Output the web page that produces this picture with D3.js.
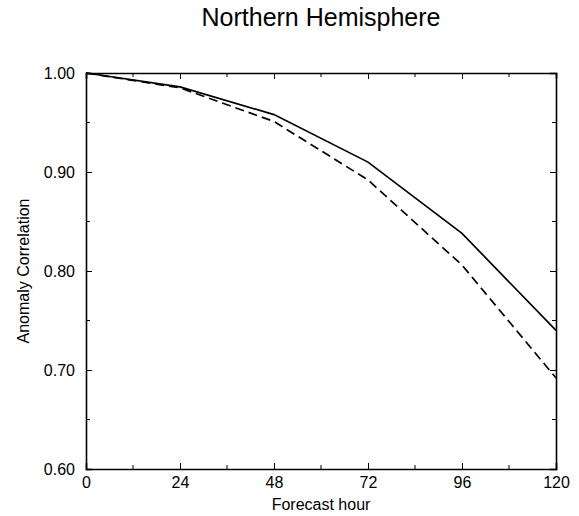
<!DOCTYPE html>
<html>
<head>
<meta charset="utf-8">
<script src="https://cdn.jsdelivr.net/npm/d3@7"></script>
<style>
  html, body { margin: 0; padding: 0; background: #fff; }
  svg { display: block; font-family: "Liberation Sans", Arial, sans-serif; }
</style>
</head>
<body>
<svg id="chart" width="579" height="516"></svg>
<script>
// Forecast hours and anomaly correlation for two forecast systems
const hours = [0, 24, 48, 72, 96, 120];
const solidSeries = [1.000, 0.986, 0.958, 0.910, 0.838, 0.740];
const dashedSeries = [1.000, 0.985, 0.951, 0.892, 0.806, 0.692];
const xTicks = [0, 24, 48, 72, 96, 120];
const yTicks = [0.60, 0.70, 0.80, 0.90, 1.00];
const titleText = "Northern Hemisphere";
const xLabel = "Forecast hour";
const yLabel = "Anomaly Correlation";

const svg = d3.select("#chart");
const L = 86, R = 556, T = 73, B = 469;

const x = d3.scaleLinear().domain([0, 120]).range([L, R]);
const y = d3.scaleLinear().domain([0.6, 1.0]).range([B, T]);

const xMinor = d3.range(12, 120, 24);
const yMinor = [0.65, 0.75, 0.85, 0.95];

// Axes (bottom/left labelled, top/right mirrored), ticks pointing inward
const axisB = d3.axisBottom(x).tickValues(xTicks).tickSize(-6).tickPadding(8).tickFormat(d3.format("d"));
const axisL = d3.axisLeft(y).tickValues(yTicks).tickSize(-6).tickPadding(11).tickFormat(d3.format(".2f"));
const axisT = d3.axisTop(x).tickValues(xTicks).tickSize(-6).tickFormat("");
const axisR = d3.axisRight(y).tickValues(yTicks).tickSize(-6).tickFormat("");

function styleAxis(g) {
  g.select(".domain").attr("stroke", "#000").attr("stroke-width", 1.6);
  g.selectAll(".tick line").attr("stroke", "#000").attr("stroke-width", 1);
  g.selectAll(".tick text").attr("fill", "#000").style("font-size", "16px")
    .style("font-family", "'Liberation Sans', Arial, sans-serif");
}

svg.append("g").attr("transform", `translate(0,${B})`).call(axisB).call(styleAxis);
svg.append("g").attr("transform", `translate(${L},0)`).call(axisL).call(styleAxis);
svg.append("g").attr("transform", `translate(0,${T})`).call(axisT).call(styleAxis);
svg.append("g").attr("transform", `translate(${R},0)`).call(axisR).call(styleAxis);

// Minor ticks
const minor = svg.append("g").attr("stroke", "#000").attr("stroke-width", 1);
xMinor.forEach(v => {
  minor.append("line").attr("x1", x(v)).attr("x2", x(v)).attr("y1", B).attr("y2", B - 4);
  minor.append("line").attr("x1", x(v)).attr("x2", x(v)).attr("y1", T).attr("y2", T + 4);
});
yMinor.forEach(v => {
  minor.append("line").attr("x1", L).attr("x2", L + 4).attr("y1", y(v)).attr("y2", y(v));
  minor.append("line").attr("x1", R).attr("x2", R - 4).attr("y1", y(v)).attr("y2", y(v));
});

// Series lines
const line = d3.line().x((d, i) => x(hours[i])).y(d => y(d));
svg.append("path").datum(solidSeries).attr("d", line)
  .attr("fill", "none").attr("stroke", "#000").attr("stroke-width", 1.7);
svg.append("path").datum(dashedSeries).attr("d", line)
  .attr("fill", "none").attr("stroke", "#000").attr("stroke-width", 1.7)
  .attr("stroke-dasharray", "9,5");

// Titles
svg.append("text").attr("x", (L + R) / 2).attr("y", 26).attr("text-anchor", "middle")
  .style("font-size", "25px").attr("fill", "#000").text(titleText);
svg.append("text").attr("x", (L + R) / 2).attr("y", 510).attr("text-anchor", "middle")
  .style("font-size", "16px").attr("fill", "#000").text(xLabel);
svg.append("text").attr("transform", `translate(29,${(T + B) / 2}) rotate(-90)`)
  .attr("text-anchor", "middle").style("font-size", "16px").attr("fill", "#000").text(yLabel);
</script>
</body>
</html>
